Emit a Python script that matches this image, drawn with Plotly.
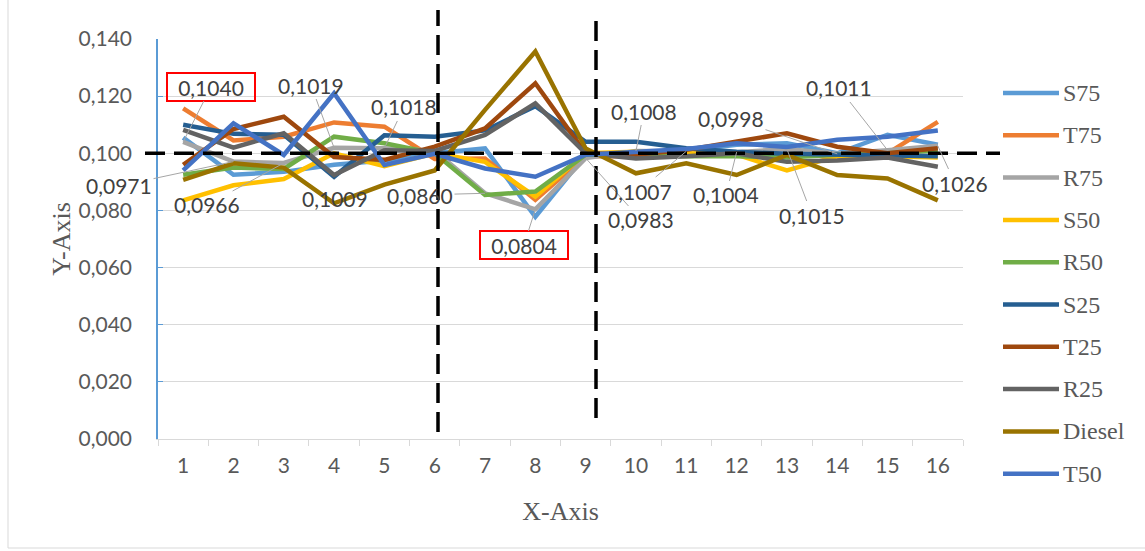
import plotly.graph_objects as go

# ---- data -------------------------------------------------------------
CATEGORIES = [str(i) for i in range(1, 17)]

S75 = [0.1055, 0.0925, 0.0935, 0.0960, 0.0975, 0.1000, 0.1017, 0.0778,
       0.0995, 0.1000, 0.1010, 0.1030, 0.1035, 0.1000, 0.1065, 0.1030]
T75 = [0.1157, 0.1045, 0.1058, 0.1108, 0.1093, 0.0980, 0.0982, 0.0837,
       0.0990, 0.0990, 0.1000, 0.1000, 0.0995, 0.0990, 0.1000, 0.1110]
R75 = [0.1040, 0.0971, 0.0966, 0.1019, 0.1018, 0.1009, 0.0860, 0.0804,
       0.0983, 0.1008, 0.1007, 0.1004, 0.1015, 0.0998, 0.1011, 0.1026]
S50 = [0.0835, 0.0888, 0.0910, 0.1000, 0.0955, 0.1000, 0.0970, 0.0848,
       0.1000, 0.1005, 0.1000, 0.0995, 0.0940, 0.0990, 0.0990, 0.0985]
R50 = [0.0925, 0.0950, 0.0945, 0.1058, 0.1035, 0.1000, 0.0854, 0.0866,
       0.0995, 0.0995, 0.0990, 0.0990, 0.0985, 0.0995, 0.1000, 0.1010]
S25 = [0.1100, 0.1068, 0.1065, 0.0918, 0.1063, 0.1058, 0.1080, 0.1165,
       0.1040, 0.1040, 0.1018, 0.1005, 0.0998, 0.0995, 0.0995, 0.0990]
T25 = [0.0960, 0.1085, 0.1128, 0.0987, 0.0977, 0.1023, 0.1087, 0.1245,
       0.1000, 0.0995, 0.1012, 0.1042, 0.1070, 0.1023, 0.1000, 0.1018]
R25 = [0.1082, 0.1020, 0.1070, 0.0924, 0.1011, 0.1008, 0.1064, 0.1175,
       0.1000, 0.0982, 0.0990, 0.1000, 0.0970, 0.0975, 0.0985, 0.0953]
DIESEL = [0.0907, 0.0965, 0.0950, 0.0825, 0.0890, 0.0940, 0.1152, 0.1356,
          0.1017, 0.0930, 0.0965, 0.0924, 0.0994, 0.0924, 0.0912, 0.0835]
T50 = [0.0940, 0.1105, 0.0994, 0.1210, 0.0959, 0.0998, 0.0947, 0.0918,
       0.0995, 0.1004, 0.1015, 0.1035, 0.1022, 0.1047, 0.1058, 0.1080]

SERIES_NAMES = ["S75", "T75", "R75", "S50", "R50", "S25", "T25", "R25", "Diesel", "T50"]
SERIES_VALUES = [S75, T75, R75, S50, R50, S25, T25, R25, DIESEL, T50]
SERIES_COLORS = ["#5B9BD5", "#ED7D31", "#A5A5A5", "#FFC000", "#70AD47",
                 "#255E91", "#9E480E", "#636363", "#997300", "#4472C4"]

# R75 carries the value labels; label centres (px) and whether a leader is drawn
LABEL_POS = [(211, 87), (119, 186), (207, 205), (311, 85), (404, 107), (335, 199),
             (420, 195), (524, 245), (641, 220), (644, 111), (639, 191), (726, 195),
             (812, 215), (731, 118), (839, 88), (955, 183)]
LABEL_LEADER = [True, True, True, True, True, False, True, True,
                True, True, True, True, True, True, True, True]
LABEL_BOXED = [0, 7]  # indices of the framed labels

# ---- geometry ---------------------------------------------------------
W, H = 1145, 551
PL, PT, PW, PH = 158, 39, 805, 400
Y_MAX = 0.14


def px_x(i):
    return PL + (i + 0.5) * PW / len(CATEGORIES)


def px_y(v):
    return PT + PH * (1 - v / Y_MAX)


def paper_x(px):
    return (px - PL) / PW


def paper_y(py):
    return (PT + PH - py) / PH


LABEL_FONT = dict(family="Lato", size=21, color="#404040")
TICK_FONT = dict(family="Lato", size=21, color="#595959")
SERIF = "Liberation Serif"

fig = go.Figure()
for name, vals, col in zip(SERIES_NAMES, SERIES_VALUES, SERIES_COLORS):
    fig.add_trace(go.Scatter(x=CATEGORIES, y=vals, mode="lines", name=name,
                             line=dict(color=col, width=4.5), showlegend=False))

annotations = []
for i, (v, (lx, ly)) in enumerate(zip(R75, LABEL_POS)):
    txt = f"{v:.4f}".replace(".", ",")
    # numeric x = category index on the category axis
    ann = dict(x=i, y=v, xref="x", yref="y", text=txt, font=LABEL_FONT,
               showarrow=True, arrowhead=0, arrowwidth=1, arrowcolor="#A6A6A6",
               ax=lx - px_x(i), ay=ly - px_y(v), standoff=0)
    if not LABEL_LEADER[i]:
        ann["arrowcolor"] = "rgba(0,0,0,0)"
    if i in LABEL_BOXED:
        ann.update(bordercolor="#FF0000", borderwidth=2, borderpad=1, width=84, height=24)
    annotations.append(ann)

# legend drawn alongside the plot
shapes = []
LEG_X0, LEG_X1, LEG_Y0, LEG_DY = 1003, 1059, 93, 42.3
for k, (name, col) in enumerate(zip(SERIES_NAMES, SERIES_COLORS)):
    yy = paper_y(LEG_Y0 + k * LEG_DY)
    shapes.append(dict(type="line", xref="paper", yref="paper",
                       x0=paper_x(LEG_X0), x1=paper_x(LEG_X1), y0=yy, y1=yy,
                       line=dict(color=col, width=4.5)))
    annotations.append(dict(xref="paper", yref="paper", x=paper_x(1061), y=yy,
                            xanchor="left", yanchor="middle", text=name, showarrow=False,
                            font=dict(family=SERIF, size=24, color="#595959")))

# reference lines
DASH = dict(color="black", width=3.5, dash="20px,9px")
shapes.append(dict(type="line", xref="paper", yref="paper",
                   x0=paper_x(145), x1=paper_x(1000), y0=0.100 / Y_MAX, y1=0.100 / Y_MAX,
                   line=DASH))
shapes.append(dict(type="line", xref="paper", yref="paper",
                   x0=paper_x(438), x1=paper_x(438), y0=paper_y(432), y1=paper_y(10),
                   line=DASH))
shapes.append(dict(type="line", xref="paper", yref="paper",
                   x0=paper_x(596), x1=paper_x(596), y0=paper_y(418), y1=paper_y(12),
                   line=DASH))

# chart frame
FRAME = dict(color="#D9D9D9", width=1)
shapes.append(dict(type="line", xref="paper", yref="paper", x0=paper_x(8), x1=paper_x(8),
                   y0=paper_y(548), y1=paper_y(0), line=FRAME))
shapes.append(dict(type="line", xref="paper", yref="paper", x0=paper_x(8), x1=paper_x(1145),
                   y0=paper_y(548), y1=paper_y(548), line=FRAME))

fig.update_layout(
    width=W, height=H,
    margin=dict(l=PL, r=W - PL - PW, t=PT, b=H - PT - PH),
    paper_bgcolor="white", plot_bgcolor="white",
    separators=",.",
    showlegend=False,
    shapes=shapes,
    annotations=annotations,
    xaxis=dict(type="category", range=[-0.5, 15.5], tickson="boundaries",
               ticks="outside", ticklen=6, tickcolor="#D9D9D9", showline=True,
               linecolor="#D9D9D9", linewidth=1, showgrid=False, tickfont=TICK_FONT,
               ticklabelstandoff=8,
               title=dict(text="X-Axis", font=dict(family=SERIF, size=26, color="#595959"),
                          standoff=25)),
    yaxis=dict(range=[0, Y_MAX], tick0=0, dtick=0.02, tickformat=".3f",
               showgrid=True, gridcolor="#D9D9D9", gridwidth=1, zeroline=False,
               showline=True, linecolor="#5B9BD5", linewidth=1.5,
               ticks="inside", ticklen=5, tickcolor="#5B9BD5", tickfont=TICK_FONT,
               ticklabelstandoff=20,
               title=dict(text="Y-Axis", font=dict(family=SERIF, size=26, color="#595959"),
                          standoff=0)),
)

fig.write_html("out.html")
